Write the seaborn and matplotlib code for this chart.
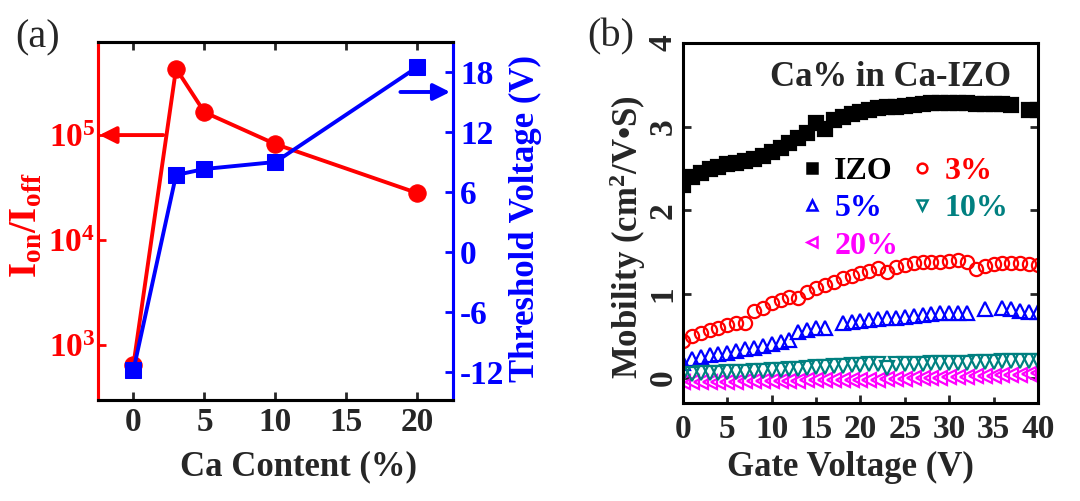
import numpy as np
import matplotlib
matplotlib.use('Agg')
import matplotlib.pyplot as plt
import matplotlib.transforms as mtransforms
import seaborn as sns
from matplotlib.ticker import FixedLocator, NullLocator, FormatStrFormatter
from matplotlib.lines import Line2D

# --- panel (a): Ion/Ioff and threshold voltage vs Ca content ---
ca_content = [0, 3, 5, 10, 20]
on_off_ratio = [650, 4.3e5, 1.65e5, 8.2e4, 2.8e4]
threshold_v = [-11.8, 7.7, 8.3, 9.0, 18.5]

# --- panel (b): mobility vs gate voltage ---
gate_v = list(range(0, 41))
mob_izo = [2.30, 2.40, 2.45, 2.50, 2.52, 2.55, 2.57, 2.59, 2.61, 2.65,
           2.70, 2.74, 2.80, 2.86, 2.92, 3.05, 2.97, 3.08, 3.12, 3.15,
           3.18, 3.20, 3.22, 3.23, 3.24, 3.25, 3.26, 3.27, 3.28, 3.28,
           3.28, 3.28, 3.28, 3.27, 3.27, 3.27, 3.27, 3.26, np.nan, 3.20, 3.20]
mob_3 = [0.44, 0.50, 0.54, 0.57, 0.60, 0.63, 0.65, 0.66, 0.80, 0.84,
         0.89, 0.93, 0.97, 0.96, 1.03, 1.07, 1.11, 1.15, 1.19, 1.22,
         1.25, 1.28, 1.31, 1.26, 1.32, 1.35, 1.37, 1.38, 1.39, 1.39,
         1.40, 1.41, 1.39, 1.30, 1.34, 1.36, 1.37, 1.37, 1.37, 1.36, 1.35]
mob_5 = [0.18, 0.22, 0.25, 0.27, 0.29, 0.30, 0.32, 0.34, 0.36, 0.38,
         0.40, 0.43, 0.45, 0.55, 0.57, 0.59, 0.60, np.nan, 0.66, 0.67,
         0.68, 0.69, 0.70, 0.71, 0.72, 0.73, 0.74, 0.75, 0.76, 0.77,
         0.77, 0.78, 0.78, np.nan, 0.82, np.nan, 0.84, 0.82, 0.80, 0.79, 0.79]
mob_10 = [0.05, 0.05, 0.06, 0.06, 0.06, 0.07, 0.07, 0.07, 0.08, 0.08,
          0.09, 0.10, 0.11, 0.11, 0.12, 0.13, 0.13, 0.14, 0.14, 0.15,
          0.15, 0.16, 0.16, 0.12, 0.16, 0.17, 0.17, 0.17, 0.18, 0.18,
          0.18, 0.18, 0.18, 0.19, 0.19, 0.19, 0.20, 0.20, 0.20, 0.20, 0.20]
mob_20 = [-0.05, -0.05, -0.05, -0.05, -0.05, -0.05, -0.05, -0.04, -0.04, -0.04,
          -0.04, -0.04, -0.04, -0.04, -0.03, -0.03, -0.03, -0.03, -0.03, -0.02,
          -0.02, -0.02, -0.02, -0.01, -0.01, -0.01, 0.00, 0.00, 0.00, 0.00,
          0.01, 0.01, 0.01, 0.02, 0.02, 0.02, 0.03, 0.03, 0.04, 0.05, 0.06]
mob_ticks = [0, 1, 2, 3, 4]

RED = '#FF0000'
BLUE = '#0000FF'
TEAL = '#008080'
MAGENTA = '#FF00FF'

sns.set_style('ticks')
plt.rcParams['font.family'] = ['Liberation Serif', 'DejaVu Serif']
plt.rcParams['font.weight'] = 'bold'
plt.rcParams['axes.labelweight'] = 'bold'
plt.rcParams['axes.unicode_minus'] = False
plt.rcParams['mathtext.fontset'] = 'custom'
plt.rcParams['mathtext.rm'] = 'Liberation Serif:bold'
plt.rcParams['mathtext.it'] = 'Liberation Serif:italic:bold'
plt.rcParams['mathtext.bf'] = 'Liberation Serif:bold'
plt.rcParams['mathtext.default'] = 'rm'

TICK_FS = 24
LABEL_FS = 25

fig = plt.figure(figsize=(10.8, 5.01), dpi=100)

# ================= panel (a) =================
ax1 = fig.add_axes([0.0907, 0.2016, 0.3287, 0.7146])
ax1.set_yscale('log')
sns.lineplot(x=ca_content, y=on_off_ratio, ax=ax1, color=RED, lw=2.8,
             marker='o', markersize=12.5, markeredgecolor=RED)
ax1.set_xlim(-2.5, 22.5)
ax1.set_ylim(300, 7.7e5)
ax1.set_xticks([0, 5, 10, 15, 20])
ax1.yaxis.set_major_locator(FixedLocator([1e3, 1e4, 1e5]))
ax1.yaxis.set_minor_locator(NullLocator())
ax1.set_yticklabels([r'$10^{3}$', r'$10^{4}$', r'$10^{5}$'])
ax1.tick_params(axis='x', direction='in', top=True, bottom=True, length=6, width=2,
                labelsize=TICK_FS, pad=5)
ax1.tick_params(axis='y', direction='in', colors=RED, length=6, width=2,
                labelsize=TICK_FS, pad=2)
ax1.set_xlabel('Ca Content (%)', fontsize=LABEL_FS)
ax1.xaxis.set_label_coords(0.566, -0.187)
ax1.xaxis.label.set_va('center')
ax1.set_ylabel(r'I$_{on}$/I$_{off}$', color=RED, fontsize=LABEL_FS + 3)
ax1.yaxis.set_label_coords(-0.2, 0.489)
ax1.yaxis.label.set_va('center')
ax1.annotate('', xy=(-2.4, 1e5), xytext=(2.1, 1e5),
             arrowprops=dict(arrowstyle='-|>', color=RED, lw=2.8,
                             mutation_scale=25, shrinkA=0, shrinkB=0))

ax2 = ax1.twinx()
sns.lineplot(x=ca_content, y=threshold_v, ax=ax2, color=BLUE, lw=2.8,
             marker='s', markersize=11, markeredgecolor=BLUE)
ax2.set_ylim(-14.8, 21)
ax2.set_yticks([-12, -6, 0, 6, 12, 18])
ax2.tick_params(axis='y', direction='in', colors=BLUE, length=6, width=2,
                labelsize=TICK_FS, pad=5)
ax2.set_ylabel('Threshold Voltage (V)', color=BLUE, fontsize=LABEL_FS)
ax2.yaxis.set_label_coords(1.205, 0.508)
ax2.yaxis.label.set_va('center')
ax2.annotate('', xy=(22.3, 16.0), xytext=(18.8, 16.0),
             arrowprops=dict(arrowstyle='-|>', color=BLUE, lw=2.8,
                             mutation_scale=25, shrinkA=0, shrinkB=0))

for ax in (ax1, ax2):
    for side in ('top', 'bottom', 'left', 'right'):
        ax.spines[side].set_linewidth(2.2)
        ax.spines[side].set_color('black')
    ax.spines['left'].set_color(RED)
    ax.spines['right'].set_color(BLUE)

# ================= panel (b) =================
axb = fig.add_axes([0.6324, 0.1956, 0.3287, 0.7186])
series = [
    (mob_izo, 's', 'black', 'IZO', True),
    (mob_5, '^', BLUE, '5%', False),
    (mob_20, '<', MAGENTA, '20%', False),
    (mob_3, 'o', RED, '3%', False),
    (mob_10, 'v', TEAL, '10%', False),
]
handles = []
for vals, mk, col, lab, filled in series:
    sns.lineplot(x=gate_v, y=vals, ax=axb, color=col, marker=mk, linestyle='none',
                 markersize=10 if filled else 9.5,
                 markerfacecolor=col if filled else 'none',
                 markeredgecolor=col, markeredgewidth=1.6)
    handles.append(Line2D([], [], marker=mk, linestyle='none', color=col,
                          markerfacecolor=col if filled else 'none',
                          markeredgecolor=col, markersize=7, markeredgewidth=1.8))

leg = axb.legend(handles, [s[3] for s in series], ncol=2, frameon=False,
                 loc='upper left', bbox_to_anchor=(0.30, 0.72), fontsize=23,
                 handlelength=0.6, handletextpad=0.4, columnspacing=0.45,
                 labelspacing=0.25, borderaxespad=0)
for txt, s in zip(leg.get_texts(), series):
    txt.set_color(s[2])

axb.text(0.925, 0.905, 'Ca% in Ca-IZO', transform=axb.transAxes, ha='right',
         va='center', fontsize=25)

axb.set_xlim(0, 40)
axb.set_ylim(-0.3, 4)
axb.xaxis.set_major_locator(FixedLocator([0, 10, 20, 30, 40]))
axb.xaxis.set_minor_locator(FixedLocator([5, 15, 25, 35]))
axb.xaxis.set_minor_formatter(FormatStrFormatter('%d'))
axb.set_yticks(mob_ticks)
axb.tick_params(axis='x', which='both', direction='in', labelsize=TICK_FS, pad=8, width=2)
axb.tick_params(axis='x', which='major', length=6)
axb.tick_params(axis='x', which='minor', length=4)
axb.tick_params(axis='y', direction='in', right=True, length=6, width=2,
                labelleft=False)
# sideways y tick numbers, placed on the data scale
ytick_tf = mtransforms.blended_transform_factory(axb.transAxes, axb.transData)
for v in mob_ticks:
    axb.text(-0.012, v, str(v), transform=ytick_tf, rotation=90, ha='right',
             va='center', fontsize=TICK_FS, clip_on=False)
for side in ('top', 'bottom', 'left', 'right'):
    axb.spines[side].set_linewidth(2.2)
    axb.spines[side].set_color('black')
axb.set_xlabel('Gate Voltage (V)', fontsize=LABEL_FS)
axb.xaxis.set_label_coords(0.473, -0.18)
axb.xaxis.label.set_va('center')
axb.set_ylabel(r'Mobility (cm$^{2}$/V•S)', fontsize=LABEL_FS)
axb.yaxis.set_label_coords(-0.157, 0.461)
axb.yaxis.label.set_va('center')

fig.text(15 / 1080, 1 - 38 / 501, '(a)', fontsize=29, fontweight='normal',
         ha='left', va='center')
fig.text(587 / 1080, 1 - 37 / 501, '(b)', fontsize=29, fontweight='normal',
         ha='left', va='center')

fig.savefig('out.png', dpi=100)
